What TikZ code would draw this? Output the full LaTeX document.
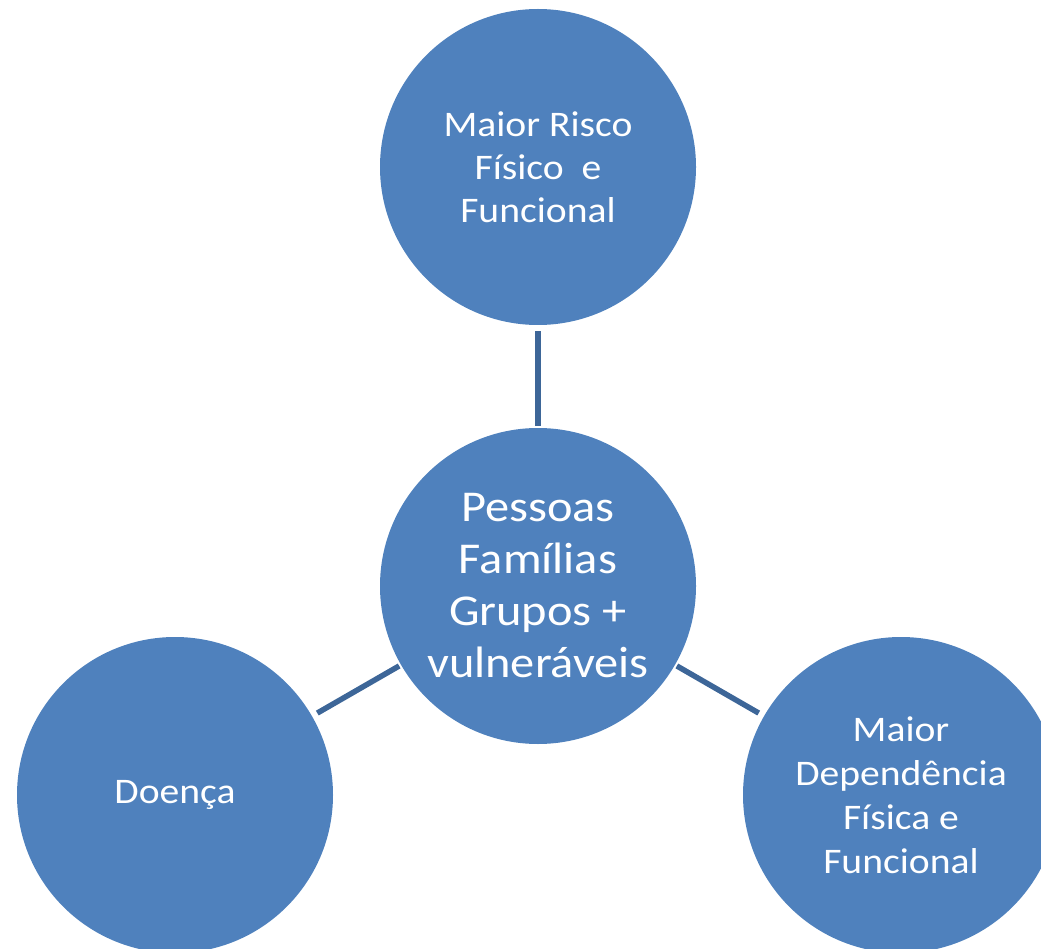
\documentclass[tikz,border=0pt]{standalone}
\usepackage{fontspec}
\setmainfont{Carlito}[FakeStretch=1.1]
\definecolor{circblue}{HTML}{4F81BD}
\definecolor{linkblue}{HTML}{3D6698}
\begin{document}
\begin{tikzpicture}[x=1pt,y=-1pt,
  bubble/.style={circle,fill=circblue,draw=none,minimum size=316pt,inner sep=0pt,text=white,align=center},
  link/.style={draw=linkblue,line width=5.5pt,shorten <=6pt,shorten >=2pt}]
\useasboundingbox (0,0) rectangle (1041,949);
\clip (0,0) rectangle (1041,949);
\node[bubble,font=\fontsize{36}{43}\selectfont] (top) at (538,167) {Maior Risco\\Físico\ \ e\\Funcional};
\node[bubble,font=\fontsize{44}{52}\selectfont] (mid) at (538,586) {Pessoas\\Famílias\\Grupos +\\vulneráveis};
\node[bubble,font=\fontsize{36}{43}\selectfont] (left) at (175,795) {Doença};
\node[bubble,font=\fontsize{36}{44}\selectfont] (right) at (901,795) {Maior\\Dependência\\Física e\\Funcional};
\draw[link] (top) -- (mid);
\draw[link] (left) -- (mid);
\draw[link] (right) -- (mid);
\end{tikzpicture}
\end{document}
